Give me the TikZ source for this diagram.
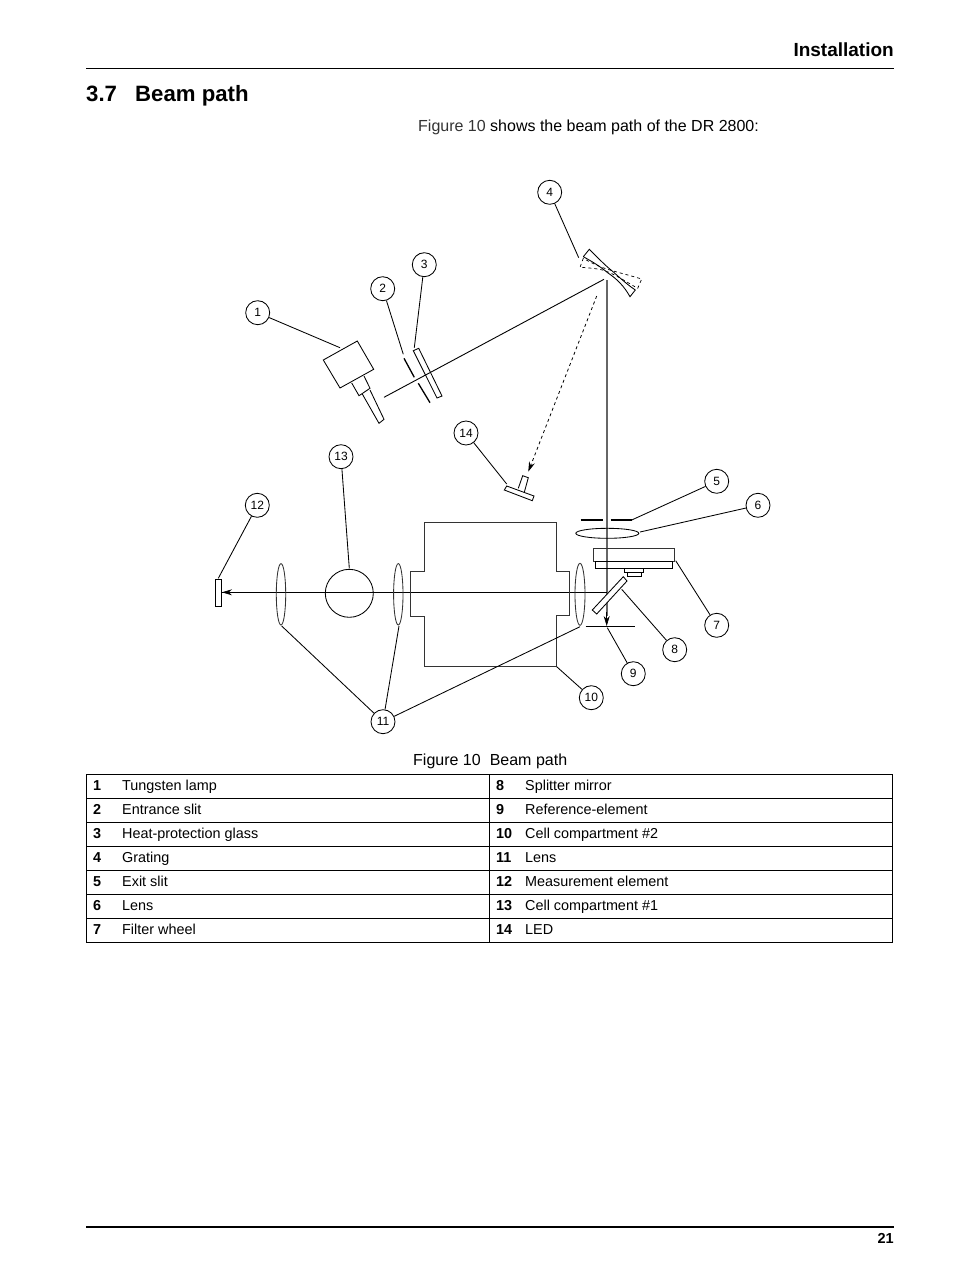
\documentclass[tikz,border=0pt]{standalone}
\usepackage{fontspec}
\setmainfont{Liberation Sans}
\usetikzlibrary{arrows.meta}
\definecolor{beamgray}{gray}{0.4}
\definecolor{linkgray}{gray}{0.2}
\tikzset{
  callout/.style={draw,circle,minimum size=24pt,inner sep=0pt,font=\fontsize{12}{12}\selectfont,line width=0.85pt},
  leader/.style={line width=0.85pt},
  part/.style={line width=0.85pt},
  cell/.style={anchor=base west,inner sep=0pt,font=\fontsize{14.4}{14.4}\selectfont},
  keynum/.style={anchor=base west,inner sep=0pt,font=\fontsize{14.4}{14.4}\selectfont\bfseries},
  tip/.style={-{Stealth[length=10pt,width=6pt]}}
}
\begin{document}
\begin{tikzpicture}[x=1pt,y=-1pt]
\useasboundingbox[fill=white] (0,0) rectangle (954,1270);
%page head
\node[anchor=base east,inner sep=0pt,font=\fontsize{19}{19}\selectfont\bfseries] (head) at (894,56) {Installation};
\draw[line width=0.9pt] (86,68.5)--(894,68.5);
\node[anchor=base west,inner sep=0pt,font=\fontsize{22.2}{22.2}\selectfont\bfseries] (secnum) at (86,101) {3.7};
\node[anchor=base west,inner sep=0pt,font=\fontsize{22.2}{22.2}\selectfont\bfseries] (sectitle) at (135,101) {Beam path};
\node[anchor=base west,inner sep=0pt,font=\fontsize{16}{16}\selectfont] (intro) at (418,131.5) {\textcolor{linkgray}{Figure 10} shows the beam path of the DR 2800:};
%lamp
\draw[part] (323.3,360)--(357.3,341)--(373.7,369.3)--(340,388)--cycle;
\draw[part] (351.7,383)--(359,395.7)--(370,388.3)--(364,376);
\draw[part] (362.3,394)--(379,423.3)--(384,419.3)--(370,390);
%entrance slit
\draw[line width=1.3pt] (404,358.3)--(414.3,377.3);
\draw[line width=1.3pt] (418.3,383.3)--(430,402.7);
%glass
\draw[part] (413.3,350.7)--(418.7,348.3)--(442,396)--(437,398)--cycle;
%grating
\draw[part] (583.3,256.7)--(589.3,249.3) .. controls (600,260) and (606,266) .. (611,270) .. controls (617,275) and (625,283) .. (635.3,290)--(630,296.7) .. controls (624,286) and (617,279) .. (608,273) .. controls (602,268) and (595,263) .. (583.3,256.7);
\draw[dashed,line width=0.7pt] (583.3,258.3)--(580,267.3) .. controls (592,268) and (602,269) .. (608,272) .. controls (618,276) and (628,283) .. (637.7,288.3)--(641.7,279) .. controls (632,276) and (620,273) .. (610,270) .. controls (603,268) and (595,265) .. (583.3,258.3);
%beams
\draw[line width=0.9pt] (384,397.3)--(604,279.3);
\draw[beamgray,line width=1.6pt] (606.7,280)--(606.7,616);
\draw[tip,line width=0.7pt] (606.7,612)--(606.7,626);
\draw[dashed,tip,line width=0.8pt] (596.7,296)--(528.3,471.7);
\draw[line width=0.9pt] (606.7,592.3)--(222,592.3);
\draw[tip,line width=0.7pt] (240,592.3)--(222,592.3);
%led
\draw[part] (506.7,486)--(534,496)--(532.3,500.7)--(504.3,490)--cycle;
\draw[part] (518.3,488.3)--(522.7,475.7)--(528.3,477.7)--(524.3,492.3);
%exit slit, lens, filter wheel
\draw[line width=1.2pt] (580.7,520)--(602.7,520);
\draw[line width=1.2pt] (610.7,520)--(631.7,520);
\draw[part] (607.3,533.3) ellipse (31.5 and 5);
\draw[part,draw=black!80] (593.3,548) rectangle (674,561);
\draw[part] (595,561) rectangle (672.3,568.3);
\draw[part] (624.3,568.3) rectangle (643.3,572.3);
\draw[part] (627.7,572.3) rectangle (641,576);
%splitter
\draw[part,fill=white] (623.3,576.7)--(627,581)--(596.7,614)--(592.3,610)--cycle;
\draw[line width=1.1pt] (585.7,626.3)--(635,626.3);
%lenses and cells
\draw[part,draw=black!80] (281,594.3) ellipse (4.7 and 30.7);
\draw[part,draw=black!80] (398.3,594.3) ellipse (4.7 and 30.7);
\draw[part,draw=black!80] (580,594.3) ellipse (5 and 31);
\draw[part] (349.3,593.3) circle (24);
\draw[part,draw=black!80] (424.3,522.7)--(424.3,571)--(410.7,571)--(410.7,616)--(424.3,616)--(424.3,666)--(556.7,666)--(556.7,615.7)--(569,615.7)--(569,571.7)--(556.7,571.7)--(556.7,522.7)--cycle;
\draw[part] (215.3,579.3) rectangle (221.7,606.7);
%callouts
\node[callout] (c1) at (257.7,312.7) {1};
\node[callout] (c2) at (382.7,288.7) {2};
\node[callout] (c3) at (424.3,264.7) {3};
\node[callout] (c4) at (549.7,192.3) {4};
\node[callout] (c5) at (716.7,481.3) {5};
\node[callout] (c6) at (758,505.3) {6};
\node[callout] (c7) at (716.7,625.3) {7};
\node[callout] (c8) at (674.7,649.7) {8};
\node[callout] (c9) at (633.3,673.7) {9};
\node[callout] (c10) at (591.3,697.7) {10};
\node[callout] (c11) at (383,721.7) {11};
\node[callout] (c12) at (257.3,505.3) {12};
\node[callout] (c13) at (341,456.7) {13};
\node[callout] (c14) at (466,433) {14};
\coordinate (p1) at (340,347.7);
\coordinate (p2) at (403.3,354.3);
\coordinate (p3) at (414.3,347.7);
\coordinate (p4) at (578.7,257.7);
\coordinate (p5) at (631.7,520);
\coordinate (p6) at (640,532);
\coordinate (p7) at (675.7,560.7);
\coordinate (p8) at (621.7,589.3);
\coordinate (p9) at (607.3,627.7);
\coordinate (p10) at (556.7,666.7);
\coordinate (p11a) at (281.7,626);
\coordinate (p11b) at (399,626);
\coordinate (p11c) at (580,626.7);
\coordinate (p12) at (218.3,578.3);
\coordinate (p13) at (349.3,568.3);
\coordinate (p14) at (506.7,484);
\foreach \i in {1,...,10}
\draw[leader] (c\i)--(p\i);
\foreach \i in {12,13,14}
\draw[leader] (c\i)--(p\i);
\foreach \i in {a,b,c}
\draw[leader] (c11)--(p11\i);
%table
\node[anchor=base west,inner sep=0pt,font=\fontsize{16}{16}\selectfont] (caption) at (413,765) {Figure 10\hspace{9pt}Beam path};
\draw[line width=0.9pt] (86,774) rectangle (892.5,942);
\draw[line width=0.9pt] (489,774)--(489,942);
\foreach \y in {798,822,846,870,894,918}
\draw[line width=0.9pt] (86,\y)--(892.5,\y);
\foreach \i/\y/\t in {1/790/Tungsten lamp,2/814/Entrance slit,3/838/Heat-protection glass,4/862/Grating,5/886/Exit slit,6/910/Lens,7/934/Filter wheel}{
\node[keynum] (n\i) at (93,\y) {\i};
\node[cell] (t\i) at (122,\y) {\t};
}
\foreach \i/\y/\t in {8/790/Splitter mirror,9/814/Reference-element,10/838/Cell compartment \#2,11/862/Lens,12/886/Measurement element,13/910/Cell compartment \#1,14/934/LED}{
\node[keynum] (n\i) at (496,\y) {\i};
\node[cell] (t\i) at (525,\y) {\t};
}
%page foot
\draw[line width=2pt] (86,1227)--(894,1227);
\node[anchor=base east,inner sep=0pt,font=\fontsize{14.5}{14.5}\selectfont\bfseries] (pageno) at (894,1243) {21};
\end{tikzpicture}
\end{document}
